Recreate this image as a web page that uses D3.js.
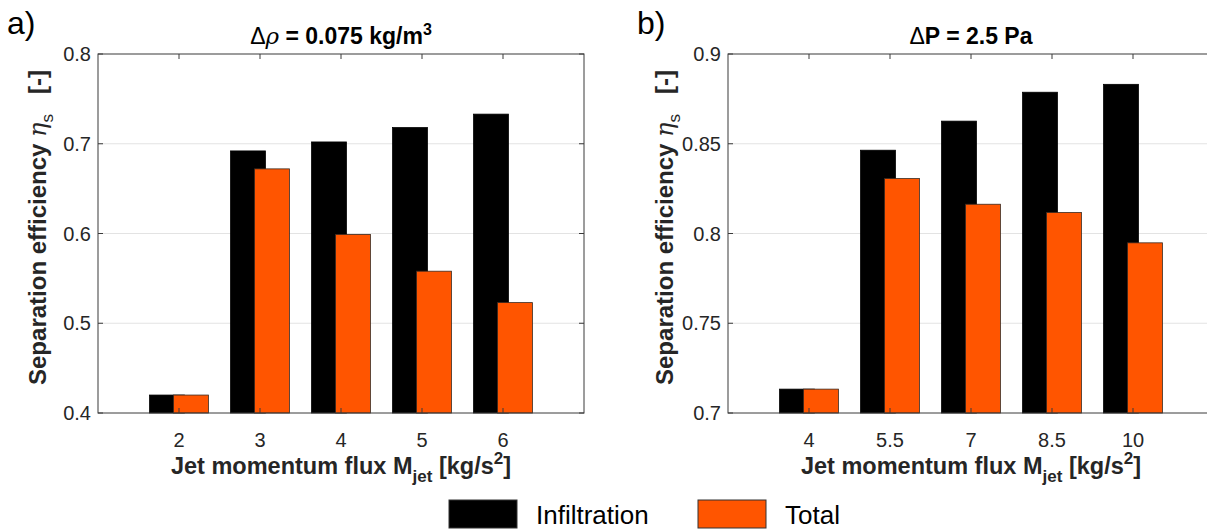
<!DOCTYPE html>
<html>
<head>
<meta charset="utf-8">
<script src="https://cdn.jsdelivr.net/npm/d3@7"></script>
<style>
  html, body { margin: 0; padding: 0; background: #fff; overflow: hidden; }
  text { font-family: "Liberation Sans", Arial, sans-serif; }
</style>
</head>
<body>
<svg id="chart" width="1207" height="529"></svg>
<script>
// ---- data ----
const seriesNames = ["Infiltration", "Total"];
const seriesColors = ["#000000", "#ff5500"];

const catsA = ["2", "3", "4", "5", "6"];
const infilA = [0.420, 0.692, 0.702, 0.718, 0.733];
const totalA = [0.420, 0.672, 0.599, 0.558, 0.523];
const yTicksA = [0.4, 0.5, 0.6, 0.7, 0.8];
const yTickLabelsA = ["0.4", "0.5", "0.6", "0.7", "0.8"];

const catsB = ["4", "5.5", "7", "8.5", "10"];
const infilB = [0.7133, 0.8464, 0.8626, 0.8787, 0.8831];
const totalB = [0.7133, 0.8306, 0.8163, 0.8117, 0.7948];
const yTicksB = [0.7, 0.75, 0.8, 0.85, 0.9];
const yTickLabelsB = ["0.7", "0.75", "0.8", "0.85", "0.9"];

const svg = d3.select("#chart");
const axisColor = "#3a3a3a";
const textColor = "#262626";

function panel(opts) {
  const { left, cats, infil, total, yTicks, yTickLabels, letter, titleParts, ylabX } = opts;
  const top = 54, bottom = 413, width = 486;
  const x = d3.scaleLinear().domain([0, cats.length + 1]).range([left, left + width]);
  const y = d3.scaleLinear().domain([yTicks[0], yTicks[yTicks.length - 1]]).range([bottom, top]);
  const g = svg.append("g");
  const unit = x(1) - x(0);
  const barW = 0.43, off = 0.148;

  // grid
  g.append("g").selectAll("line").data(yTicks.slice(1, -1)).join("line")
    .attr("x1", left).attr("x2", left + width)
    .attr("y1", d => y(d)).attr("y2", d => y(d))
    .attr("stroke", "#e3e3e3").attr("stroke-width", 1);

  // bars
  const series = [infil, total];
  series.forEach((vals, si) => {
    g.append("g").selectAll("rect").data(vals).join("rect")
      .attr("x", (d, i) => x(i + 1 + (si === 0 ? -off : off) - barW / 2))
      .attr("width", barW * unit)
      .attr("y", d => y(d))
      .attr("height", d => y(yTicks[0]) - y(d))
      .attr("fill", seriesColors[si])
      .attr("stroke", si === 0 ? "#000" : "#3a2a20")
      .attr("stroke-width", 0.8);
  });

  // box
  g.append("rect").attr("x", left).attr("y", top).attr("width", width).attr("height", bottom - top)
    .attr("fill", "none").attr("stroke", axisColor).attr("stroke-width", 1);

  // x ticks (bottom & top, inward)
  const tickLen = 5;
  cats.forEach((c, i) => {
    const xx = x(i + 1);
    g.append("line").attr("x1", xx).attr("x2", xx).attr("y1", top).attr("y2", top + tickLen)
      .attr("stroke", axisColor);
    g.append("line").attr("x1", xx).attr("x2", xx).attr("y1", bottom).attr("y2", bottom - tickLen)
      .attr("stroke", axisColor);
  });
  g.append("g").selectAll("text").data(cats).join("text")
    .attr("x", (d, i) => x(i + 1)).attr("y", 447)
    .attr("text-anchor", "middle").attr("font-size", 20).attr("fill", textColor)
    .text(d => d);

  // y ticks
  yTicks.forEach(v => {
    g.append("line").attr("x1", left).attr("x2", left + tickLen).attr("y1", y(v)).attr("y2", y(v)).attr("stroke", axisColor);
    g.append("line").attr("x1", left + width).attr("x2", left + width - tickLen).attr("y1", y(v)).attr("y2", y(v)).attr("stroke", axisColor);
  });
  g.append("g").selectAll("text").data(yTicks).join("text")
    .attr("x", left - 7).attr("y", d => y(d) + 7)
    .attr("text-anchor", "end").attr("font-size", 20).attr("fill", textColor)
    .text((d, i) => yTickLabels[i]);

  // x label
  const xl = g.append("text").attr("x", left + 243).attr("y", 474)
    .attr("text-anchor", "middle").attr("font-size", 23.5).attr("font-weight", "bold").attr("fill", textColor);
  xl.append("tspan").text("Jet momentum flux M");
  xl.append("tspan").attr("dy", 8).attr("font-size", 17).text("jet");
  xl.append("tspan").attr("dy", -8).text(" [kg/s");
  xl.append("tspan").attr("dy", -10).attr("font-size", 17).text("2");
  xl.append("tspan").attr("dy", 10).text("]");

  // y label
  const yl = g.append("text").attr("transform", `translate(${ylabX},${(top + bottom) / 2 - 6}) rotate(-90)`)
    .attr("text-anchor", "middle").attr("font-size", 24).attr("font-weight", "bold").attr("fill", textColor);
  yl.append("tspan").text("Separation efficiency ");
  yl.append("tspan").attr("font-weight", "normal").attr("font-style", "italic")
    .attr("font-family", "'DejaVu Serif', serif").text("η");
  yl.append("tspan").attr("dy", 7).attr("font-size", 17).attr("font-weight", "normal").text("s");
  yl.append("tspan").attr("dy", -7).attr("dx", 20).text("[-]");

  // title
  const t = g.append("text").attr("x", left + 243).attr("y", 44)
    .attr("text-anchor", "middle").attr("font-size", 23).attr("font-weight", "bold").attr("fill", "#000");
  titleParts.forEach(p => {
    const s = t.append("tspan").text(p.t);
    if (p.normal) s.attr("font-weight", "normal");
    if (p.italic) s.attr("font-style", "italic").attr("font-family", "'DejaVu Serif', serif");
    if (p.sup) s.attr("dy", -9).attr("font-size", 16);
  });

  // panel letter
  g.append("text").attr("x", left - 91).attr("y", 34).attr("font-size", 32).attr("fill", "#000").text(letter);
}

panel({
  left: 98, cats: catsA, infil: infilA, total: totalA, yTicks: yTicksA, yTickLabels: yTickLabelsA,
  letter: "a)", ylabX: 46,
  titleParts: [{ t: "Δ", normal: true }, { t: "ρ", normal: true, italic: true }, { t: " = 0.075 kg/m" }, { t: "3", sup: true }]
});
panel({
  left: 728, cats: catsB, infil: infilB, total: totalB, yTicks: yTicksB, yTickLabels: yTickLabelsB,
  letter: "b)", ylabX: 673,
  titleParts: [{ t: "Δ", normal: true }, { t: "P = 2.5 Pa" }]
});

// legend
const leg = svg.append("g");
const legX = [449, 698];
seriesNames.forEach((n, i) => {
  leg.append("rect").attr("x", legX[i]).attr("y", 500).attr("width", 68).attr("height", 28)
    .attr("fill", seriesColors[i]).attr("stroke", "#333").attr("stroke-width", 1);
  leg.append("text").attr("x", legX[i] + 87).attr("y", 524).attr("font-size", 26).attr("fill", "#000").text(n);
});
</script>
</body>
</html>
